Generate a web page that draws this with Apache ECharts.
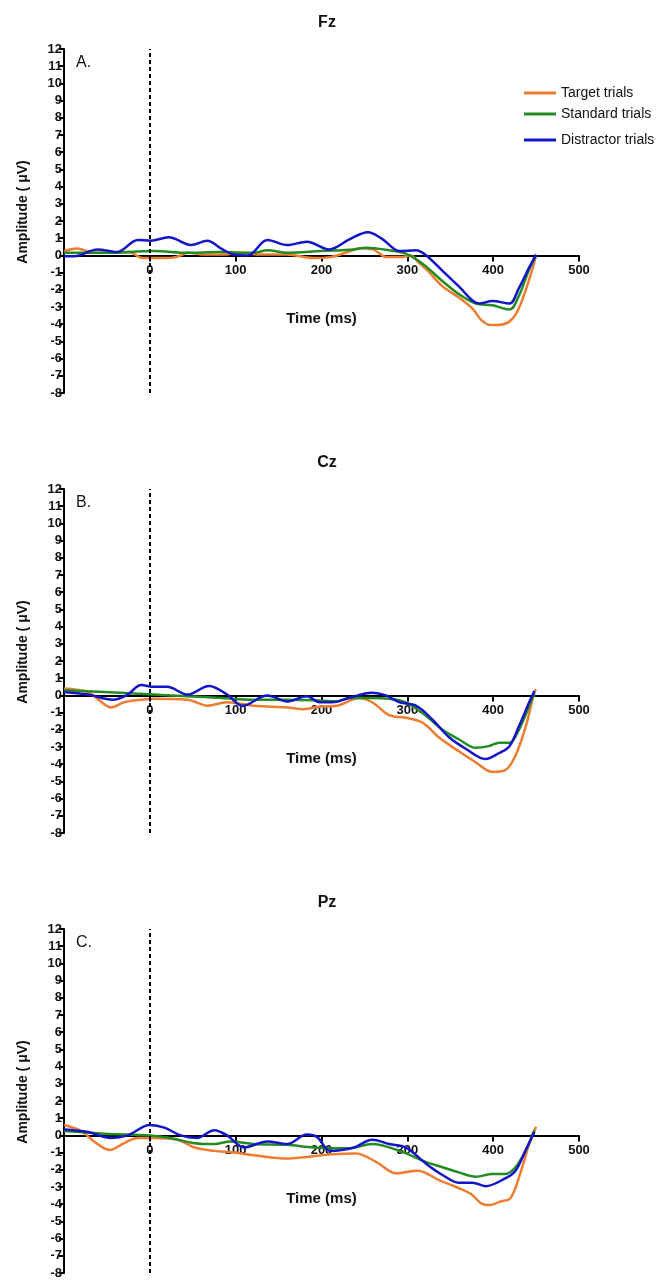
<!DOCTYPE html>
<html>
<head>
<meta charset="utf-8">
<script src="https://cdn.jsdelivr.net/npm/echarts@6/dist/echarts.min.js"></script>
<style>
html,body{margin:0;padding:0;background:#fff;}
#c{width:669px;height:1283px;}
</style>
</head>
<body>
<div id="c"></div>
<script>
// ---- data (time in ms, amplitude in µV) ----
const panelTitles = ['Fz', 'Cz', 'Pz'];
const panelLetters = ['A.', 'B.', 'C.'];
const seriesNames = ['Target trials', 'Standard trials', 'Distractor trials'];
const xTicks = [-100, 0, 100, 200, 300, 400, 500];
const yMin = -8, yMax = 12;

const fzTarget = [[-100,0.25],[-85,0.4],[-65,0.15],[-45,0.15],[-25,0.2],[-8,-0.15],[15,-0.15],[30,-0.1],[45,0.15],[65,0.05],[85,0.05],[106,0.15],[130,0.05],[160,0.05],[190,-0.15],[210,-0.1],[228,0.15],[245,0.42],[260,0.35],[276,-0.1],[292,-0.1],[304,0.0],[314,-0.45],[324,-0.9],[341,-1.8],[360,-2.45],[376,-3.1],[386,-3.75],[397,-4.05],[412,-4.0],[422,-3.7],[431,-2.95],[442,-1.4],[450,0.0]];
const fzStandard = [[-100,0.15],[-53,0.15],[5,0.25],[44,0.15],[80,0.2],[121,0.15],[137,0.3],[160,0.15],[199,0.25],[238,0.35],[252,0.45],[279,0.3],[298,0.1],[318,-0.5],[341,-1.5],[360,-2.25],[380,-2.8],[399,-2.9],[419,-3.15],[430,-2.35],[442,-0.8],[450,0.0]];
const fzDistractor = [[-100,-0.05],[-88,-0.05],[-61,0.35],[-38,0.2],[-14,0.9],[1,0.85],[22,1.05],[48,0.6],[67,0.85],[83,0.4],[98,0.05],[114,0.0],[137,0.9],[160,0.6],[183,0.8],[209,0.35],[233,0.95],[254,1.35],[271,0.95],[291,0.25],[310,0.3],[322,0.0],[341,-0.9],[360,-1.8],[384,-2.8],[399,-2.65],[419,-2.8],[430,-1.9],[442,-0.7],[450,0.05]];

const czTarget = [[-100,0.4],[-72,0.2],[-61,-0.2],[-45,-0.7],[-30,-0.4],[-10,-0.25],[5,-0.2],[44,-0.25],[67,-0.6],[90,-0.4],[121,-0.6],[160,-0.7],[179,-0.8],[199,-0.65],[218,-0.6],[244,-0.15],[259,-0.4],[279,-1.15],[298,-1.3],[318,-1.6],[337,-2.45],[360,-3.25],[380,-3.9],[399,-4.45],[414,-4.35],[426,-3.5],[438,-1.8],[448,0.2],[450,0.35]];
const czStandard = [[-100,0.3],[-34,0.15],[5,0.05],[44,-0.05],[83,-0.15],[121,-0.25],[160,-0.25],[199,-0.3],[218,-0.35],[232,-0.15],[259,-0.15],[279,-0.2],[298,-0.4],[322,-1.2],[341,-2.0],[360,-2.55],[380,-3.05],[395,-2.95],[407,-2.75],[419,-2.75],[430,-2.0],[442,-0.6],[448,0.15]];
const czDistractor = [[-100,0.2],[-72,0.05],[-43,-0.25],[-26,0.05],[-10,0.6],[5,0.5],[20,0.5],[44,0.05],[69,0.55],[90,0.05],[108,-0.6],[137,0.0],[160,-0.35],[183,-0.05],[198,-0.4],[213,-0.4],[232,-0.15],[259,0.15],[275,0.0],[291,-0.4],[310,-0.6],[329,-1.4],[349,-2.45],[368,-3.1],[391,-3.7],[407,-3.35],[419,-2.95],[430,-1.8],[442,-0.4],[448,0.25]];

const pzTarget = [[-100,0.6],[-80,0.25],[-65,-0.35],[-47,-0.85],[-30,-0.45],[-14,-0.15],[5,-0.15],[32,-0.25],[52,-0.7],[75,-0.9],[98,-1.0],[121,-1.15],[160,-1.35],[183,-1.25],[213,-1.1],[240,-1.05],[264,-1.55],[287,-2.2],[312,-2.05],[337,-2.6],[357,-3.0],[374,-3.4],[386,-3.95],[396,-4.05],[408,-3.85],[420,-3.65],[431,-2.3],[442,-0.5],[450,0.5]];
const pzStandard = [[-100,0.25],[-53,0.1],[0,0.0],[24,-0.15],[52,-0.45],[75,-0.5],[94,-0.35],[121,-0.5],[160,-0.55],[191,-0.7],[232,-0.75],[259,-0.5],[291,-0.9],[322,-1.55],[341,-1.85],[360,-2.15],[380,-2.4],[399,-2.25],[414,-2.25],[426,-1.85],[438,-0.85],[448,0.3]];
const pzDistractor = [[-100,0.35],[-72,0.2],[-45,-0.15],[-26,0.0],[0,0.6],[17,0.45],[36,0.0],[55,-0.15],[75,0.3],[90,0.0],[110,-0.7],[137,-0.35],[160,-0.5],[183,0.05],[195,-0.1],[210,-0.9],[238,-0.7],[259,-0.25],[279,-0.5],[298,-0.7],[322,-1.65],[341,-2.3],[360,-2.75],[376,-2.75],[391,-2.95],[414,-2.5],[426,-2.05],[438,-0.85],[448,0.2]];

const panelData = [
  [fzTarget, fzStandard, fzDistractor],
  [czTarget, czStandard, czDistractor],
  [pzTarget, pzStandard, pzDistractor]
];
const colors = ['#ED7D31', '#228B22', '#1414C8'];

// ---- layout ----
const gridTops = [49, 489, 929];
const gridLeft = 64, gridWidth = 515, gridHeight = 344;
// move the x axis (line, ticks, labels, name) up from the grid bottom to amplitude 0
const zeroOffset = -gridHeight * (0 - yMin) / (yMax - yMin);
const FONT = '"Liberation Sans", Arial, sans-serif';

const grids = [], xAxes = [], yAxes = [], series = [], titles = [], graphics = [];
gridTops.forEach((top, i) => {
  grids.push({left: gridLeft, top: top, width: gridWidth, height: gridHeight, containLabel: false});
  xAxes.push({
    type: 'value', gridIndex: i, min: xTicks[0], max: xTicks[xTicks.length - 1], interval: 100,
    position: 'bottom', offset: zeroOffset,
    name: 'Time (ms)', nameLocation: 'middle', nameGap: 56,
    nameTextStyle: {fontFamily: FONT, fontSize: 15, fontWeight: 'bold', color: '#111'},
    axisLine: {onZero: false, lineStyle: {color: '#000', width: 2}},
    axisTick: {show: true, inside: false, length: 6, lineStyle: {color: '#000', width: 2}},
    axisLabel: {fontFamily: FONT, fontSize: 13, fontWeight: 'bold', color: '#111', margin: 9,
      formatter: v => (v === -100 ? '' : String(v))},
    splitLine: {show: false}
  });
  yAxes.push({
    type: 'value', gridIndex: i, min: yMin, max: yMax, interval: 1,
    name: 'Amplitude ( \u03bcV)', nameLocation: 'middle', nameGap: 34, nameRotate: 90,
    nameTextStyle: {fontFamily: FONT, fontSize: 14, fontWeight: 'bold', color: '#111', padding: [0, 0, 0, 18]},
    axisLine: {show: true, onZero: false, lineStyle: {color: '#000', width: 2}},
    axisTick: {show: true, inside: false, length: 5, lineStyle: {color: '#000', width: 2}},
    axisLabel: {fontFamily: FONT, fontSize: 13, fontWeight: 'bold', color: '#111', margin: 2},
    splitLine: {show: false}
  });
  titles.push({
    text: panelTitles[i], left: 322, top: top - 39, textAlign: 'center',
    textStyle: {fontFamily: FONT, fontSize: 16, fontWeight: 'bold', color: '#111'}
  });
  graphics.push({
    type: 'text', left: 76, top: top + 6,
    style: {text: panelLetters[i], font: '16px ' + FONT, fill: '#111'}
  });
  panelData[i].forEach((d, k) => {
    const s = {
      name: seriesNames[k], type: 'line', xAxisIndex: i, yAxisIndex: i,
      data: d, showSymbol: false, smooth: 0.35, z: 3 + k,
      lineStyle: {color: colors[k], width: 2.5}, itemStyle: {color: colors[k]}
    };
    if (k === 0) {
      s.markLine = {
        silent: true, symbol: ['none', 'none'], label: {show: false},
        lineStyle: {color: '#000', type: [4, 3], width: 2},
        data: [{xAxis: 0}]
      };
    }
    series.push(s);
  });
});

const legendTops = [81, 102, 128];
const legends = seriesNames.map((n, k) => ({
  data: [n], left: 519, top: legendTops[k], orient: 'vertical',
  icon: 'rect', itemWidth: 32, itemHeight: 3, itemGap: 0, itemTextGap: 4,
  selectedMode: false,
  textStyle: {fontFamily: FONT, fontSize: 14, color: '#111'}
}));

const chart = echarts.init(document.getElementById('c'), null, {renderer: 'canvas'});
chart.setOption({
  backgroundColor: '#fff',
  animation: false,
  title: titles,
  legend: legends,
  grid: grids,
  xAxis: xAxes,
  yAxis: yAxes,
  series: series,
  graphic: graphics
});
</script>
</body>
</html>
